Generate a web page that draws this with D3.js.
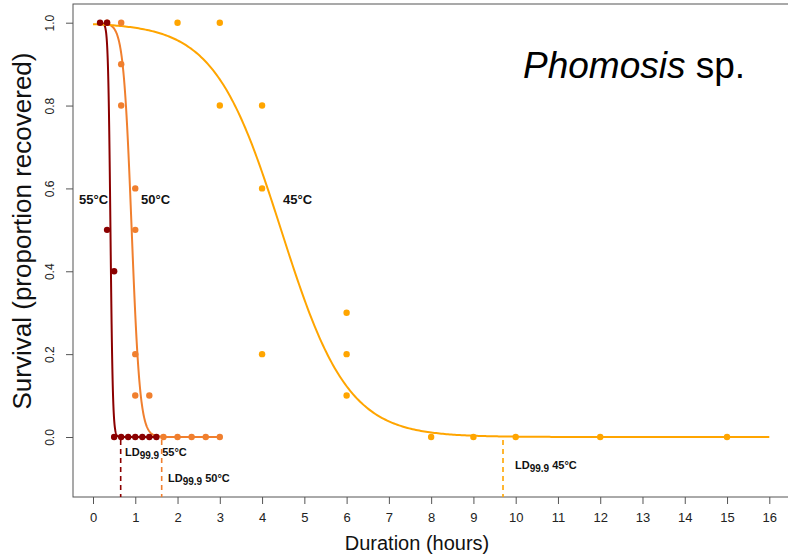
<!DOCTYPE html>
<html>
<head>
<meta charset="utf-8">
<script src="https://cdn.jsdelivr.net/npm/d3@7"></script>
<style>
  html, body { margin: 0; padding: 0; background: #fff; }
  svg { display: block; font-family: "Liberation Sans", Arial, Helvetica, sans-serif; }
</style>
</head>
<body>
<svg id="chart" width="788" height="556"></svg>
<script>
// ---- Data ----
const temps = ["55°C", "50°C", "45°C"];
const colors = ["#8B0000", "#F07F2E", "#FFA500"];

// observed points: [duration (hours), survival]
const pts55 = [[0.167,1.0],[0.333,1.0],[0.333,0.5],[0.5,0.4],[0.5,0],[0.667,0],[0.833,0],[1.0,0],[1.167,0],[1.333,0],[1.5,0]];
const pts50 = [[0.333,1.0],[0.667,1.0],[0.667,0.9],[0.667,0.8],[1.0,0.6],[1.0,0.5],[1.0,0.2],[1.0,0.1],[1.333,0.1],[1.667,0],[2.0,0],[2.333,0],[2.667,0],[3.0,0]];
const pts45 = [[2,1.0],[3,1.0],[3,0.8],[4,0.8],[4,0.6],[4,0.2],[6,0.3],[6,0.2],[6,0.1],[8,0],[9,0],[10,0],[12,0],[15,0]];

// fitted logistic model parameters per temperature
const ld50 = [0.413, 0.915, 4.45];
const slope = [36, 10.2, 1.27];
const curveFrom = [0.167, 0.333, 0];
const curveTo = [1.5, 3.0, 16];
// LD99.9 values (dashed lines)
const ld999 = [0.655, 1.625, 9.7];

const xTicks = d3.range(0, 17, 1);
const yTicks = [0, 0.2, 0.4, 0.6, 0.8, 1.0];

// ---- Layout ----
const svg = d3.select("#chart");
const box = { left: 73, top: 4, right: 790, bottom: 497 };
const x = d3.scaleLinear().domain([0, 16]).range([93, 769.3]);
const y = d3.scaleLinear().domain([0, 1]).range([437, 22.7]);
const axisCol = "#555";

svg.append("rect").attr("x", box.left).attr("y", box.top)
  .attr("width", box.right - box.left).attr("height", box.bottom - box.top)
  .attr("fill", "none").attr("stroke", axisCol).attr("stroke-width", 1);

// x axis
const xAxis = d3.axisBottom(x).tickValues(xTicks).tickSize(7).tickPadding(9).tickFormat(d3.format("d"));
const gx = svg.append("g").attr("transform", `translate(0,${box.bottom})`).call(xAxis);
gx.select(".domain").remove();
gx.selectAll(".tick line").attr("stroke", axisCol);
gx.selectAll(".tick text").attr("fill", "#222").style("font-size", "13px").style("font-family", "Liberation Sans, Arial, sans-serif");

// y axis
const yAxis = d3.axisLeft(y).tickValues(yTicks).tickSize(7).tickFormat(d3.format(".1f"));
const gy = svg.append("g").attr("transform", `translate(${box.left},0)`).call(yAxis);
gy.select(".domain").remove();
gy.selectAll(".tick line").attr("stroke", axisCol);
gy.selectAll(".tick text")
  .attr("fill", "#222").style("font-size", "12px").style("font-family", "Liberation Sans, Arial, sans-serif")
  .attr("x", null).attr("dy", null)
  .attr("transform", "translate(-22,0) rotate(-90)")
  .attr("text-anchor", "middle").attr("dominant-baseline", "middle");

// axis titles
svg.append("text").attr("x", 417).attr("y", 550).attr("text-anchor", "middle")
  .style("font-size", "20px").attr("fill", "#111").text("Duration (hours)");
svg.append("text").attr("transform", "translate(31,231) rotate(-90)").attr("text-anchor", "middle")
  .style("font-size", "26px").attr("fill", "#111").text("Survival (proportion recovered)");

// title
const t = svg.append("text").attr("x", 523).attr("y", 78).style("font-size", "37px").attr("fill", "#000");
t.append("tspan").style("font-style", "italic").text("Phomosis");
t.append("tspan").text(" sp.");

// fitted curves
const line = d3.line().x(d => x(d[0])).y(d => y(d[1]));
temps.forEach((tp, i) => {
  const n = 400;
  const data = d3.range(n + 1).map(k => {
    const xv = curveFrom[i] + (curveTo[i] - curveFrom[i]) * k / n;
    return [xv, 1 / (1 + Math.exp(slope[i] * (xv - ld50[i])))];
  });
  svg.append("path").datum(data).attr("d", line)
    .attr("fill", "none").attr("stroke", colors[i]).attr("stroke-width", 2);
});

// dashed LD99.9 lines
ld999.forEach((v, i) => {
  svg.append("line").attr("x1", x(v)).attr("x2", x(v))
    .attr("y1", y(0) + 3).attr("y2", box.bottom)
    .attr("stroke", colors[i]).attr("stroke-width", 1.6).attr("stroke-dasharray", "5,4");
});

// points
[pts45, pts50, pts55].forEach((pts, j) => {
  const i = 2 - j;
  svg.append("g").selectAll("circle").data(pts).join("circle")
    .attr("cx", d => x(d[0])).attr("cy", d => y(d[1])).attr("r", 3.2)
    .attr("fill", colors[i]);
});

// temperature labels
const tempLabelX = [79, 141, 283];
temps.forEach((tp, i) => {
  svg.append("text").attr("x", tempLabelX[i]).attr("y", 204)
    .style("font-size", "13px").style("font-weight", "bold").attr("fill", "#111").text(tp);
});

// LD99.9 labels
const ldLabelPos = [[125, 456], [168, 482], [515, 469]];
ldLabelPos.forEach((p, i) => {
  const tx = svg.append("text").attr("x", p[0]).attr("y", p[1])
    .style("font-size", "11px").style("font-weight", "bold").attr("fill", "#111");
  tx.append("tspan").text("LD");
  tx.append("tspan").attr("dy", 3).style("font-size", "10px").text("99.9");
  tx.append("tspan").attr("dy", -3).text(i === 0 ? " " : "  ");
  tx.append("tspan").text(temps[i]);
});
</script>
</body>
</html>
